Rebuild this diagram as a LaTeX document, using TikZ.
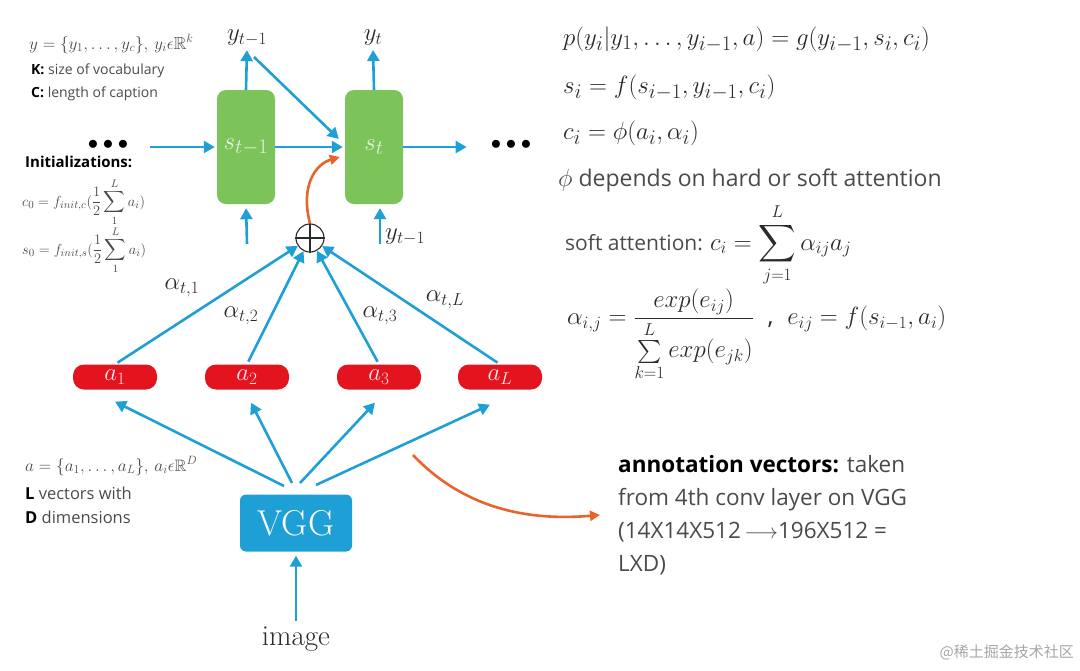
\documentclass[tikz,border=0pt]{standalone}
\usepackage{amsmath,amssymb}
\usepackage{fontspec}
\newfontfamily\sansf{Open Sans}
\newfontfamily\cjk{Noto Sans CJK SC}
\usetikzlibrary{arrows.meta,calc}
\definecolor{myblue}{HTML}{1E9FD6}
\definecolor{mygreen}{HTML}{7CC35A}
\definecolor{myred}{HTML}{E3141E}
\definecolor{myorange}{HTML}{E9632B}
\definecolor{txt}{HTML}{2A2A2A}
\definecolor{gtxt}{HTML}{4A4A4A}
\begin{document}
\begin{tikzpicture}[x=1pt,y=-1pt,
  arr/.style={draw=myblue, line width=2.6pt, -{Triangle[length=11pt,width=12pt]}},
  oarr/.style={draw=myorange, line width=2.6pt, -{Triangle[length=10pt,width=10pt]}},
  statebox/.style={fill=mygreen, rounded corners=9pt, minimum width=58pt, minimum height=114pt, inner sep=0pt, text=white!80!mygreen, font=\fontsize{29}{29}\selectfont},
  annotbox/.style={fill=myred, rounded corners=11pt, minimum width=84pt, minimum height=25pt, inner sep=0pt, text=white!90!myred, font=\fontsize{24}{24}\selectfont},
  vggbox/.style={fill=myblue, rounded corners=6pt, minimum width=112pt, minimum height=57pt, inner sep=0pt, text=white, font=\fontsize{36}{36}\selectfont},
  lab/.style={text=txt, inner sep=2pt, font=\fontsize{25}{25}\selectfont},
  alab/.style={text=txt, inner sep=0pt, font=\fontsize{23}{23}\selectfont},
  dotsnode/.style={text=black, inner sep=0pt, font=\fontsize{21}{21}\selectfont},
  lefttxt/.style={anchor=west, inner sep=0pt, text=gtxt, font=\sansf\fontsize{14}{16}\selectfont},
  leftmath/.style={anchor=west, inner sep=0pt, text=gtxt, font=\fontsize{17.5}{19}\selectfont},
  rmath/.style={anchor=base west, inner sep=0pt, text=txt, font=\fontsize{29}{33}\selectfont},
  rtxt/.style={anchor=base west, inner sep=0pt, text=gtxt, font=\sansf\fontsize{23}{26}\selectfont},
]
\useasboundingbox (0,0) rectangle (1080,670);

% states
\node[statebox] (s1) at (246,147) {$s_{t-1}$};
\node[statebox] (s2) at (374,147) {$s_t$};
\node[lab] (y1) at (247,38) {$y_{t-1}$};
\node[lab] (y2) at (373,38) {$y_t$};
\draw[arr, shorten >=2pt] (s1.north) -- (y1.south);
\draw[arr, shorten >=2pt] (s2.north) -- (y2.south);
\coordinate (d1) at (254,57);
\draw[arr] (d1) -- ($(s2.west)+(-6,-8)$);

\node[dotsnode] (ldots) at (108,145) {$\bullet\bullet\bullet$};
\node[dotsnode] (rdots) at (511,145) {$\bullet\bullet\bullet$};
\draw[arr, shorten <=22pt, shorten >=2pt] (ldots.east |- s1.west) -- (s1.west);
\draw[arr, shorten >=2pt] (s1.east) -- (s2.west);
\draw[arr, shorten >=24pt] (s2.east) -- (rdots.west |- s2.east);

% plus
\node[circle, draw=txt, line width=1.1pt, minimum size=28pt, inner sep=0pt] (plus) at (310,238) {};
\draw[txt, line width=1.1pt] (plus.north) -- (plus.south) (plus.west) -- (plus.east);
\draw[oarr] (plus.north) .. controls (300,185) and (316,164) .. ($(s2.west)+(-5,10)$);

% lower inputs to states
\coordinate (b1) at (247,244);
\coordinate (b2) at (380,244);
\draw[arr, shorten >=4pt] (b1) -- (s1.south);
\draw[arr, shorten >=4pt] (b2) -- (b2 |- s2.south);
\node[lab, anchor=west] (y3) at (383,237) {$y_{t-1}$};

% annotation vectors
\node[annotbox] (a1) at (115,377) {$a_1$};
\node[annotbox] (a2) at (247,377) {$a_2$};
\node[annotbox] (a3) at (379,377) {$a_3$};
\node[annotbox] (aL) at (500,377) {$a_L$};
\draw[arr, shorten <=3pt] (a1.north) -- (plus);
\draw[arr, shorten <=3pt] (a2.north) -- (plus);
\draw[arr, shorten <=3pt] (a3.north) -- (plus);
\draw[arr, shorten <=3pt] (aL.north) -- (plus);
\node[alab] (al1) at (182,288) {$\alpha_{t,1}$};
\node[alab] (al2) at (241,316) {$\alpha_{t,2}$};
\node[alab] (al3) at (380,316) {$\alpha_{t,3}$};
\node[alab] (alL) at (445,300) {$\alpha_{t,L}$};

% VGG
\node[vggbox] (vgg) at (296,523) {VGG};
\node[text=txt, font=\fontsize{29}{29}\selectfont] (img) at (296,639) {image};
\draw[arr, shorten <=2pt, shorten >=4pt] (img.north) -- (vgg.south);
\coordinate (f1) at (284,486);
\coordinate (f2) at (292,483);
\coordinate (f3) at (300,483);
\coordinate (f4) at (316,485);
\draw[arr] (f1) -- ($(a1.south)+(0,12)$);
\draw[arr] (f2) -- ($(a2.south)+(4,13)$);
\draw[arr] (f3) -- ($(a3.south)+(-4,13)$);
\draw[arr] (f4) -- ($(aL.south)+(-10,15)$);

% orange to annotation text
\node[anchor=north west, align=left, inner sep=0pt, text=gtxt, font=\sansf\fontsize{22.5}{33}\selectfont] (anno) at (618,455)
  {{\color{black}\bfseries annotation vectors:} taken\\ from 4th conv layer on VGG\\ (14X14X512\,$\longrightarrow$196X512 =\\ LXD)};
\coordinate (o1) at (413,455);
\coordinate (o2) at (600,515);
\draw[oarr] (o1) .. controls (470,515) and (540,520) .. (o2);

% left texts
\node[leftmath] (yset) at (29,44) {$y=\{y_1,\ldots,y_c\},\,y_i\epsilon\mathbb{R}^k$};
\node[lefttxt] (kv) at (31,71) {{\color{black}\bfseries K:} size of vocabulary};
\node[lefttxt] (cl) at (31,94) {{\color{black}\bfseries C:} length of caption};
\node[lefttxt, font=\sansf\bfseries\fontsize{15}{17}\selectfont, text=black] (init) at (25,162) {Initializations:};
\node[leftmath, font=\fontsize{15}{17}\selectfont] (c0) at (22,202) {$c_0=f_{init,c}(\dfrac{1}{2}\displaystyle\sum_{1}^{L}a_i)$};
\node[leftmath, font=\fontsize{15}{17}\selectfont] (s0) at (22,250) {$s_0=f_{init,s}(\dfrac{1}{2}\displaystyle\sum_{1}^{L}a_i)$};
\node[leftmath, font=\fontsize{16.5}{18}\selectfont] (aset) at (25,466) {$a=\{a_1,\ldots,a_L\},\,a_i\epsilon\mathbb{R}^D$};
\node[lefttxt, font=\sansf\fontsize{16.5}{18}\selectfont] (lv) at (25,493) {{\color{black}\bfseries L} vectors with};
\node[lefttxt, font=\sansf\fontsize{16.5}{18}\selectfont] (dd) at (25,517) {{\color{black}\bfseries D} dimensions};

% right formulas
\node[rmath] (e1) at (563,45) {$p(y_i|y_1,\ldots,y_{i-1},a)=g(y_{i-1},s_i,c_i)$};
\node[rmath] (e2) at (563,93) {$s_i=f(s_{i-1},y_{i-1},c_i)$};
\node[rmath] (e3) at (563,139) {$c_i=\phi(a_i,\alpha_i)$};
\node[rtxt] (e4) at (558,186) {{\fontsize{27}{27}\selectfont$\phi$} depends on hard or soft attention};
\node[anchor=west, inner sep=0pt, text=gtxt, font=\sansf\fontsize{21}{24}\selectfont] (e5) at (565,245)
  {soft attention: {\color{txt}\fontsize{26}{29}\selectfont$\displaystyle c_i=\sum_{j=1}^{L}\alpha_{ij}a_j$}};
\node[anchor=west, inner sep=0pt, text=txt, font=\fontsize{23}{26}\selectfont] (e6) at (567,335)
  {$\displaystyle\alpha_{i,j}=\frac{exp(e_{ij})}{\sum\limits_{k=1}^{L}exp(e_{jk})}$\ \ {\sansf\fontsize{24}{24}\selectfont ,}\ \ $e_{ij}=f(s_{i-1},a_i)$};

% watermark
\node[anchor=east, inner sep=0pt, text=black!35, font=\cjk\fontsize{15}{15}\selectfont] (wm) at (1074,652) {@稀土掘金技术社区};
\end{tikzpicture}
\end{document}
